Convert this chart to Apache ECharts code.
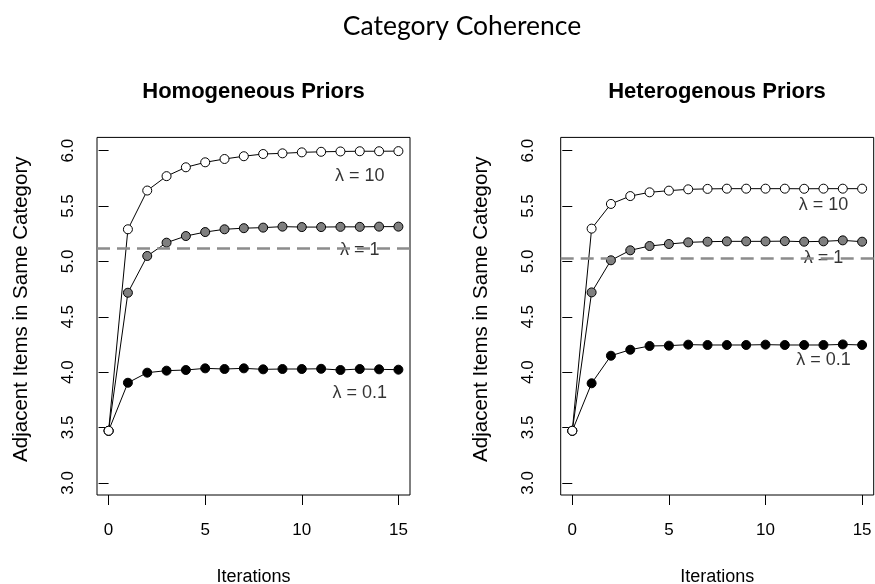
<!DOCTYPE html>
<html>
<head>
<meta charset="utf-8">
<script src="https://cdn.jsdelivr.net/npm/echarts@6/dist/echarts.min.js"></script>
<style>
html,body{margin:0;padding:0;background:#fff;}
#chart{width:875px;height:584px;}
</style>
</head>
<body>
<div id="chart"></div>
<script>
// ---- data ----
const iterations = [0,1,2,3,4,5,6,7,8,9,10,11,12,13,14,15];
const xTicks = [0,5,10,15];
const yTicks = [3.0,3.5,4.0,4.5,5.0,5.5,6.0];

const homoLambda10  = [3.47,5.29,5.64,5.77,5.85,5.895,5.925,5.95,5.97,5.976,5.985,5.99,5.993,5.995,5.995,5.996];
const homoLambda1   = [3.47,4.717,5.049,5.169,5.229,5.265,5.29,5.30,5.305,5.314,5.31,5.31,5.312,5.312,5.314,5.314];
const homoLambda01  = [3.47,3.904,3.995,4.013,4.019,4.034,4.028,4.034,4.025,4.028,4.028,4.03,4.019,4.028,4.025,4.022];

const heteroLambda10 = [3.47,5.296,5.519,5.59,5.624,5.639,5.651,5.655,5.657,5.657,5.657,5.657,5.656,5.657,5.657,5.657];
const heteroLambda1  = [3.47,4.72,5.01,5.10,5.139,5.157,5.172,5.178,5.181,5.181,5.181,5.183,5.178,5.181,5.19,5.178];
const heteroLambda01 = [3.47,3.899,4.148,4.202,4.236,4.239,4.248,4.245,4.245,4.245,4.248,4.245,4.245,4.245,4.25,4.245];

const homoReference   = 5.115;
const heteroReference = 5.031;

const lambdaNames = ['λ = 10','λ = 1','λ = 0.1'];
const homoLabelAt   = [[13,5.773],[13,5.106],[13,3.811]];
const heteroLabelAt = [[13,5.51],[13,5.028],[13,4.112]];

const panelTitles = ['Homogeneous Priors','Heterogenous Priors'];
const mainTitle = 'Category Coherence';
const xName = 'Iterations';
const yName = 'Adjacent Items in Same Category';

// ---- chart ----
const chart = echarts.init(document.getElementById('chart'), null, {renderer:'canvas'});
const FONT = 'Liberation Sans, Arial, Helvetica, sans-serif';

function pairs(ys){ return iterations.map((x,i)=>[x,ys[i]]); }

function mkX(idx){
  return {
    gridIndex: idx, type:'value', min:-0.6, max:15.6,
    axisLine:{show:false}, splitLine:{show:false},
    axisTick:{show:true, length:10, lineStyle:{color:'#000', width:1}, customValues:xTicks},
    axisLabel:{show:true, margin:27, fontSize:17, color:'#000', fontFamily:FONT, customValues:xTicks},
    name:xName, nameLocation:'middle', nameGap:73,
    nameTextStyle:{fontSize:18, color:'#000', fontFamily:FONT}
  };
}
function mkY(idx, margin, gap){
  return {
    gridIndex: idx, type:'value', min:2.89, max:6.12,
    axisLine:{show:false}, splitLine:{show:false},
    axisTick:{show:true, length:10, lineStyle:{color:'#000', width:1}, customValues:yTicks},
    axisLabel:{show:true, margin:margin, rotate:90, fontSize:17, color:'#000', fontFamily:FONT,
      customValues:yTicks, formatter:v=>Number(v).toFixed(1)},
    name:yName, nameLocation:'middle', nameGap:gap, nameRotate:90,
    nameTextStyle:{fontSize:20.5, color:'#000', fontFamily:FONT, padding:[0,0,0,14]}
  };
}
function lineSeries(idx, ys, fill){
  return {
    type:'line', xAxisIndex:idx, yAxisIndex:idx, data:pairs(ys),
    symbol:'circle', symbolSize:9, showSymbol:true,
    lineStyle:{color:'#000', width:1},
    itemStyle:{color:fill, borderColor:'#000', borderWidth:1},
    emphasis:{disabled:true}, animation:false, silent:true, z:3
  };
}
function refSeries(idx, value){
  return {
    type:'line', xAxisIndex:idx, yAxisIndex:idx, data:[],
    markLine:{silent:true, symbol:['none','none'], animation:false,
      lineStyle:{color:'#8c8c8c', width:2.5, type:[13,7]},
      label:{show:false},
      data:[{yAxis:value}]},
    z:2
  };
}
function labelSeries(idx, pos){
  return {
    type:'scatter', xAxisIndex:idx, yAxisIndex:idx,
    data: pos.map((p,i)=>[p[0],p[1],lambdaNames[i]]),
    symbolSize:1, itemStyle:{color:'rgba(0,0,0,0)'},
    label:{show:true, position:'inside', formatter:p=>p.data[2], fontSize:18, color:'#000', fontFamily:FONT},
    silent:true, animation:false, z:4
  };
}

const option = {
  backgroundColor:'#fff',
  animation:false,
  title:[
    {text:mainTitle, left:462, top:13, textAlign:'center', padding:0,
     textStyle:{fontFamily:'Lato, sans-serif', fontSize:26.5, fontWeight:'normal', color:'#000'}},
    {text:panelTitles[0], left:253.5, top:81, textAlign:'center', padding:0,
     textStyle:{fontFamily:FONT, fontSize:22, fontWeight:'bold', color:'#000'}},
    {text:panelTitles[1], left:717, top:81, textAlign:'center', padding:0,
     textStyle:{fontFamily:FONT, fontSize:22, fontWeight:'bold', color:'#000'}}
  ],
  grid:[
    {left:97, top:137.4, width:313, height:357.6, show:true, borderColor:'#000', borderWidth:1, backgroundColor:'transparent', outerBoundsMode:'none'},
    {left:560.7, top:137.4, width:313, height:357.6, show:true, borderColor:'#000', borderWidth:1, backgroundColor:'transparent', outerBoundsMode:'none'}
  ],
  xAxis:[mkX(0), mkX(1)],
  yAxis:[mkY(0,20,65), mkY(1,24,69)],
  series:[
    refSeries(0, homoReference),
    lineSeries(0, homoLambda01, '#000'),
    lineSeries(0, homoLambda1, '#7f7f7f'),
    lineSeries(0, homoLambda10, '#fff'),
    labelSeries(0, homoLabelAt),
    refSeries(1, heteroReference),
    lineSeries(1, heteroLambda01, '#000'),
    lineSeries(1, heteroLambda1, '#7f7f7f'),
    lineSeries(1, heteroLambda10, '#fff'),
    labelSeries(1, heteroLabelAt)
  ]
};
chart.setOption(option);
</script>
</body>
</html>
